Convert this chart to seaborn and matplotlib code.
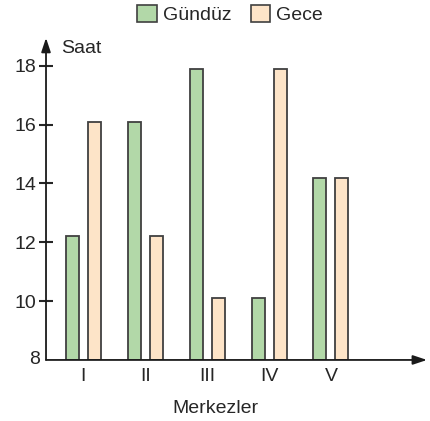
import pandas as pd
import matplotlib.pyplot as plt
import seaborn as sns

# Values
merkezler = ["I", "II", "III", "IV", "V"]
gunduz = [12.2, 16.1, 17.9, 10.1, 14.2]
gece = [16.1, 12.2, 10.1, 17.9, 14.2]
y_ticks = [8, 10, 12, 14, 16, 18]

df = pd.DataFrame({
    "Merkez": merkezler * 2,
    "Saat": gunduz + gece,
    "Zaman": ["Gündüz"] * len(merkezler) + ["Gece"] * len(merkezler),
})

sns.set_style("white")
plt.rcParams["font.family"] = ["Liberation Sans", "DejaVu Sans"]
plt.rcParams["font.size"] = 14

fig = plt.figure(figsize=(4.3, 4.21), dpi=100)
ax = fig.add_axes([0.107, 0.145, 0.886, 0.765])

palette = {"Gündüz": "#b2d8a8", "Gece": "#fde4c8"}
sns.barplot(data=df, x="Merkez", y="Saat", hue="Zaman", palette=palette,
            width=0.71, gap=0.41, edgecolor="#404040", linewidth=1.3,
            saturation=1, ax=ax, legend=False)

# bars start from the y=8 baseline
for p in ax.patches:
    h = p.get_height()
    p.set_y(8)
    p.set_height(h - 8)

ax.set_ylim(8, 18.95)
ax.set_xlim(-0.6, 5.55)
ax.set_yticks(y_ticks[1:])
ax.set_yticklabels([str(t) for t in y_ticks[1:]], fontsize=14)
ax.tick_params(axis="y", direction="inout", length=10, width=1.5, pad=2, left=True)
ax.tick_params(axis="x", length=0, pad=6, labelsize=14)
ax.text(-0.6 - 0.1, 8, "8", ha="right", va="center", fontsize=14,
        transform=ax.transData, clip_on=False)

for s in ["top", "right", "left", "bottom"]:
    ax.spines[s].set_visible(False)

# axes with arrow heads
ax.annotate("", xy=(1.0, 0), xytext=(0, 0), xycoords="axes fraction",
            arrowprops=dict(arrowstyle="-|>,head_length=0.6,head_width=0.2",
                            color="#1a1a1a", lw=1.3, shrinkA=0, shrinkB=0))
ax.annotate("", xy=(0, 1.0), xytext=(0, 0), xycoords="axes fraction",
            arrowprops=dict(arrowstyle="-|>,head_length=0.6,head_width=0.2",
                            color="#1a1a1a", lw=1.3, shrinkA=0, shrinkB=0))

ax.set_xlabel("Merkezler", fontsize=14)
ax.xaxis.set_label_coords(0.444, -0.124)
ax.set_ylabel("")
ax.text(0.04, 0.968, "Saat", transform=ax.transAxes, ha="left", va="center",
        fontsize=14)

handles = [plt.Rectangle((0, 0), 1, 1, facecolor=palette[k], edgecolor="#404040",
                         linewidth=1.2) for k in ["Gündüz", "Gece"]]
fig.legend(handles, ["Gündüz", "Gece"], loc="upper center", bbox_to_anchor=(0.535, 1.03),
           ncol=2, frameon=False, fontsize=14, handlelength=1.0, handleheight=1.0,
           handletextpad=0.3, columnspacing=1.0)

fig.savefig("out.png", dpi=100)
